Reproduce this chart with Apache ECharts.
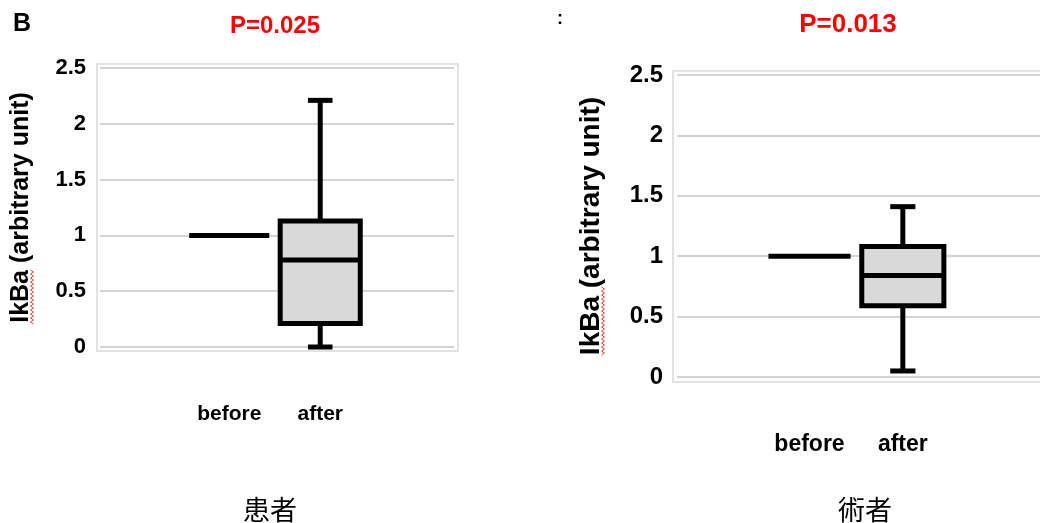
<!DOCTYPE html>
<html>
<head>
<meta charset="utf-8">
<title>IkBa before / after</title>
<script src="https://cdn.jsdelivr.net/npm/echarts@6/dist/echarts.min.js"></script>
<style>
  html, body { margin: 0; padding: 0; background: #fff; }
  #chart { width: 1040px; height: 523px; }
</style>
</head>
<body>
<div id="chart"></div>
<script>
// groups on the x axis
var categories = ['before', 'after'];
// box values: [min, q1, median, q3, max]
var patientBefore = [1, 1, 1, 1, 1];
var patientAfter = [0, 0.21, 0.78, 1.13, 2.21];
var surgeonBefore = [1, 1, 1, 1, 1];
var surgeonAfter = [0.05, 0.59, 0.84, 1.08, 1.41];
// y axis
var yMin = 0;
var yMax = 2.5;
var yStep = 0.5;
var pValues = ['P=0.025', 'P=0.013'];
var panelNames = ['患者', '術者'];
var yTitle = 'IkBa (arbitrary unit)';

var FONT = '"Liberation Sans", Arial, sans-serif';
var BOX_W = 0.88;
var CAP_W = 0.27;

function toRows(before, after) {
  return [[1].concat(before), [2].concat(after)];
}

function renderBox(params, api) {
  var x = api.value(0);
  var lo = api.coord([x, api.value(1)]);
  var q1 = api.coord([x, api.value(2)]);
  var med = api.coord([x, api.value(3)]);
  var q3 = api.coord([x, api.value(4)]);
  var hi = api.coord([x, api.value(5)]);
  var hw = api.size([BOX_W, 0])[0] / 2;
  var cw = api.size([CAP_W, 0])[0] / 2;
  var line = { stroke: '#000', lineWidth: 5, lineCap: 'butt' };
  var kids = [];
  if (hi[1] < q3[1]) {
    kids.push({ type: 'line', shape: { x1: hi[0], y1: hi[1], x2: q3[0], y2: q3[1] }, style: line });
    kids.push({ type: 'line', shape: { x1: hi[0] - cw, y1: hi[1], x2: hi[0] + cw, y2: hi[1] }, style: line });
  }
  if (lo[1] > q1[1]) {
    kids.push({ type: 'line', shape: { x1: lo[0], y1: lo[1], x2: q1[0], y2: q1[1] }, style: line });
    kids.push({ type: 'line', shape: { x1: lo[0] - cw, y1: lo[1], x2: lo[0] + cw, y2: lo[1] }, style: line });
  }
  if (q1[1] - q3[1] > 0.5) {
    kids.push({
      type: 'rect',
      shape: { x: q3[0] - hw, y: q3[1], width: hw * 2, height: q1[1] - q3[1] },
      style: { fill: '#d9d9d9', stroke: '#000', lineWidth: 5, lineJoin: 'miter' }
    });
  }
  kids.push({ type: 'line', shape: { x1: med[0] - hw, y1: med[1], x2: med[0] + hw, y2: med[1] }, style: line });
  return { type: 'group', children: kids };
}

function xAxisFor(gi, size, margin) {
  return {
    type: 'value', gridIndex: gi, min: -0.42, max: 3.47,
    axisLine: { show: false }, axisTick: { show: false }, splitLine: { show: false },
    axisLabel: {
      customValues: [1, 2],
      formatter: function (v) { return categories[Math.round(v) - 1] || ''; },
      margin: margin, color: '#000', fontWeight: 'bold', fontSize: size, fontFamily: FONT
    }
  };
}

function yAxisFor(gi, size, nameSize, gap) {
  return {
    type: 'value', gridIndex: gi, min: yMin, max: yMax, interval: yStep,
    name: yTitle, nameLocation: 'middle', nameGap: gap,
    nameTextStyle: { color: '#000', fontWeight: 'bold', fontSize: nameSize, fontFamily: FONT },
    axisLine: { show: false }, axisTick: { show: false },
    splitLine: { lineStyle: { color: '#d4d4d4', width: 2 } },
    axisLabel: { margin: 14, color: '#000', fontWeight: 'bold', fontSize: size, fontFamily: FONT }
  };
}

function squiggle(x, y0, y1) {
  var pts = [];
  var k = 0;
  for (var y = y0; y <= y1; y += 2) {
    pts.push([x + (k % 2 ? 1.5 : -1.5), y]);
    k++;
  }
  return { type: 'polyline', shape: { points: pts }, style: { stroke: '#e0403a', lineWidth: 1 }, silent: true };
}

function label(text, x, y, size, color, weight, family) {
  return {
    type: 'text', x: x, y: y,
    style: {
      text: text, fill: color, fontSize: size, fontWeight: weight,
      fontFamily: family || FONT, align: 'center', verticalAlign: 'middle'
    }
  };
}

var chart = echarts.init(document.getElementById('chart'));
chart.setOption({
  animation: false,
  grid: [
    { left: 100, top: 68, width: 354, height: 279 },
    { left: 677, top: 75, width: 366, height: 302 }
  ],
  xAxis: [xAxisFor(0, 21, 57), xAxisFor(1, 23, 56)],
  yAxis: [yAxisFor(0, 22, 25, 66), yAxisFor(1, 24, 28, 72)],
  series: [
    { type: 'custom', xAxisIndex: 0, yAxisIndex: 0, renderItem: renderBox, data: toRows(patientBefore, patientAfter) },
    { type: 'custom', xAxisIndex: 1, yAxisIndex: 1, renderItem: renderBox, data: toRows(surgeonBefore, surgeonAfter) }
  ],
  graphic: [
    { type: 'rect', shape: { x: 97, y: 64, width: 361, height: 287 }, style: { fill: null, stroke: '#e2e2e2', lineWidth: 2 }, z: -1 },
    { type: 'rect', shape: { x: 673, y: 71, width: 380, height: 311 }, style: { fill: null, stroke: '#e2e2e2', lineWidth: 2 }, z: -1 },
    label('B', 22, 24, 25, '#000', 'bold'),
    label(':', 560, 19, 18, '#000', 'bold'),
    label(pValues[0], 275, 26, 24, '#ff0000', 'bold'),
    label(pValues[1], 848, 25, 26, '#ff0000', 'bold'),
    label(panelNames[0], 270, 510, 27, '#000', 'normal', '"Noto Sans CJK JP", sans-serif'),
    label(panelNames[1], 865, 510, 27, '#000', 'normal', '"Noto Sans CJK JP", sans-serif'),
    squiggle(32, 270, 325),
    squiggle(603, 287, 356)
  ]
});
</script>
</body>
</html>
